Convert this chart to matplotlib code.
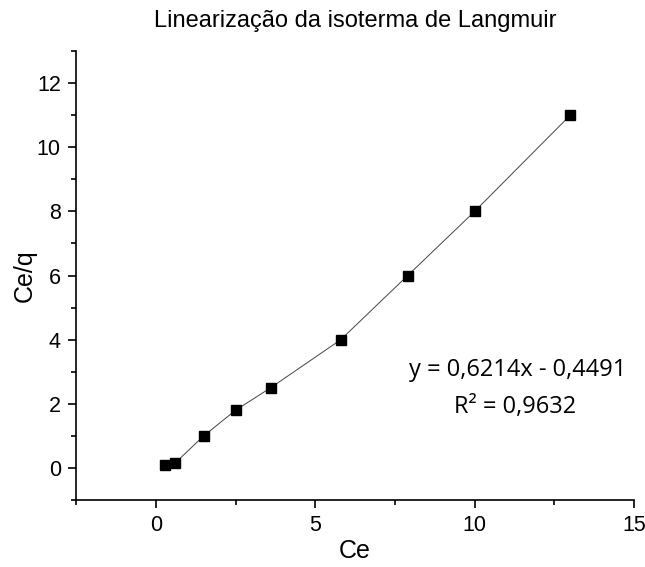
import matplotlib
matplotlib.use("Agg")
import matplotlib.pyplot as plt
from matplotlib.ticker import MultipleLocator

# Ce (mg/L) and Ce/q from the Langmuir linearisation
ce = [0.3, 0.6, 1.5, 2.5, 3.6, 5.8, 7.9, 10.0, 13.0]
ce_q = [0.1, 0.15, 1.0, 1.8, 2.5, 4.0, 6.0, 8.0, 11.0]
equation = "y = 0,6214x - 0,4491"
r_squared = "R² = 0,9632"

plt.rcParams['font.family'] = ['Liberation Sans', 'DejaVu Sans']

fig = plt.figure(figsize=(6.45, 5.67), dpi=100)
ax = fig.add_axes([0.118, 0.118, 0.865, 0.792])

ax.plot(ce, ce_q, color='#444444', linewidth=0.7, zorder=1)
ax.plot(ce, ce_q, linestyle='none', marker='s', markersize=7, color='black', zorder=2)

ax.set_xlim(-2.5, 15)
ax.set_ylim(-1, 13)
ax.xaxis.set_major_locator(MultipleLocator(5))
ax.xaxis.set_minor_locator(MultipleLocator(2.5))
ax.yaxis.set_major_locator(MultipleLocator(2))
ax.yaxis.set_minor_locator(MultipleLocator(1))

for side in ('top', 'right'):
    ax.spines[side].set_visible(False)
for side in ('left', 'bottom'):
    ax.spines[side].set_linewidth(1.2)

ax.tick_params(which='major', direction='out', length=6, width=1.2, labelsize=15.5, pad=5)
ax.tick_params(which='minor', direction='out', length=3.5, width=1.2)

ax.set_xlabel('Ce', fontsize=18, labelpad=2)
ax.set_ylabel('Ce/q', fontsize=18, labelpad=0)
ax.set_title('Linearização da isoterma de Langmuir', fontsize=17, pad=17)

fig.text(0.802, 0.347, equation, ha='center', va='center', fontsize=17, family=['Open Sans', 'DejaVu Sans'])
fig.text(0.798, 0.282, r_squared, ha='center', va='center', fontsize=17, family=['Open Sans', 'DejaVu Sans'])

fig.savefig('out.png', dpi=100)
